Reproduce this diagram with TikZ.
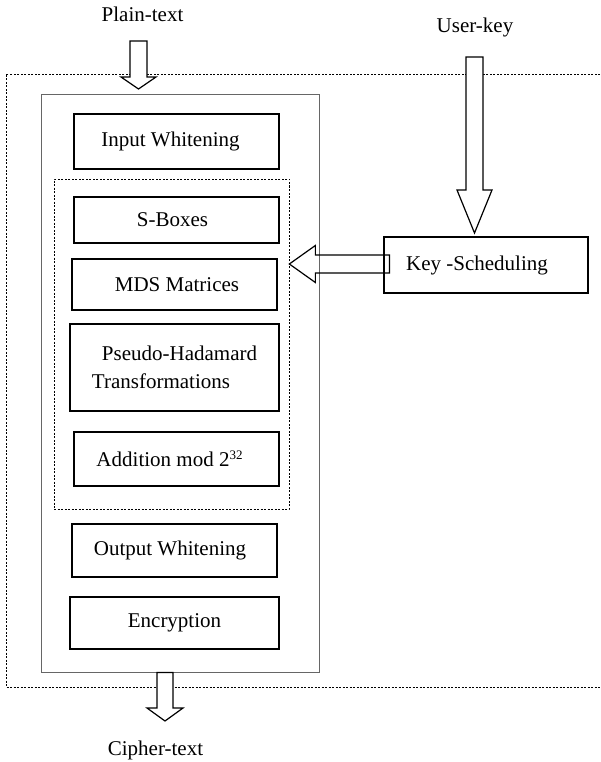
\documentclass[tikz,border=0pt]{standalone}
\usepackage{fontspec}
\setmainfont{Liberation Serif}
\usetikzlibrary{calc}

\begin{document}
\begin{tikzpicture}[x=1pt, y=-1pt,
  every node/.append style={font=\fontsize{21}{28}\selectfont, inner sep=0pt, text=black},
  box/.style={draw, line width=1.2pt},
  frame/.style={draw=black!60, line width=0.9pt},
  dotframe/.style={draw, line width=0.7pt, dash pattern=on 2pt off 1.5pt},
  blk/.style={draw, line width=1.2pt, fill=white, line join=miter}]
\useasboundingbox (0,0) rectangle (600,762);

% cipher body
\node[frame, minimum width=278, minimum height=578] (outer) at (180,383) {};
\node[dotframe, minimum width=235, minimum height=330] (core) at (171.5,344) {};

\node[box, minimum width=205, minimum height=55] (inwhite) at (176.5,141.5) {Input Whitening\hspace*{12pt}};
\node[box, minimum width=205, minimum height=46] (sbox) at (176.5,220) {S-Boxes\hspace*{8pt}};
\node[box, minimum width=205, minimum height=51] (mds) at (174.5,284.5) {\hspace*{5pt}MDS Matrices};
\node[box, minimum width=209, minimum height=87, align=left] (pht) at (174.5,367.5)
  {\hspace*{10pt}Pseudo-Hadamard\\Transformations};
\node[box, minimum width=205, minimum height=54] (addmod) at (176.5,459)
  {Addition mod 2\raisebox{7pt}{\fontsize{13}{13}\selectfont 32}\hspace*{14pt}};
\node[box, minimum width=205, minimum height=53] (outwhite) at (174.5,550.5) {Output Whitening\hspace*{9pt}};
\node[box, minimum width=209, minimum height=52] (encr) at (174.5,623) {Encryption};

\node[box, minimum width=204, minimum height=56] (keysched) at (486,265) {Key -Scheduling\hspace*{18pt}};

% inputs and output
\node[anchor=base] (plain) at (142.5,22) {Plain-text};
\node[anchor=base] (user) at (475,33) {User-key};
\node[anchor=base] (cipher) at (155.5,755) {Cipher-text};

\draw[dotframe] (600,74) -| (6,687) -- (600,687);

\coordinate (ptail) at (138.5,41);
\coordinate (ptip) at (138.5,89);
\coordinate (utail) at (474.5,57);
\coordinate (utip) at (474.5,233);
\coordinate (ctail) at (outer.south -| 165,0);
\coordinate (ctip) at (165,721);
\coordinate (ktail) at ($(keysched.west)+(6,-1)$);
\coordinate (ktip) at (core.east |- ktail);

\draw[blk] let \p1=(ptail), \p2=(ptip) in
  (\x1-8.5pt,\y1) -- (\x1+8.5pt,\y1) -- (\x1+8.5pt,\y2+12pt) -- (\x1+17.5pt,\y2+12pt)
  -- (\p2) -- (\x1-17.5pt,\y2+12pt) -- (\x1-8.5pt,\y2+12pt) -- cycle;
\draw[blk] let \p1=(utail), \p2=(utip) in
  (\x1-8.5pt,\y1) -- (\x1+8.5pt,\y1) -- (\x1+8.5pt,\y2+43pt) -- (\x1+17.5pt,\y2+43pt)
  -- (\p2) -- (\x1-17.5pt,\y2+43pt) -- (\x1-8.5pt,\y2+43pt) -- cycle;
\draw[blk] let \p1=(ctail), \p2=(ctip) in
  (\x1-8pt,\y1) -- (\x1+8pt,\y1) -- (\x1+8pt,\y2+13pt) -- (\x1+18pt,\y2+13pt)
  -- (\p2) -- (\x1-18pt,\y2+13pt) -- (\x1-8pt,\y2+13pt) -- cycle;
\draw[blk, fill=none] let \p1=(ktail), \p2=(ktip) in
  (\x1,\y1+9pt) -- (\x2+26pt,\y1+9pt) -- (\x2+26pt,\y1+18.5pt) -- (\p2)
  -- (\x2+26pt,\y1-18.5pt) -- (\x2+26pt,\y1-9pt) -- (\x1,\y1-9pt) -- cycle;
\end{tikzpicture}
\end{document}
